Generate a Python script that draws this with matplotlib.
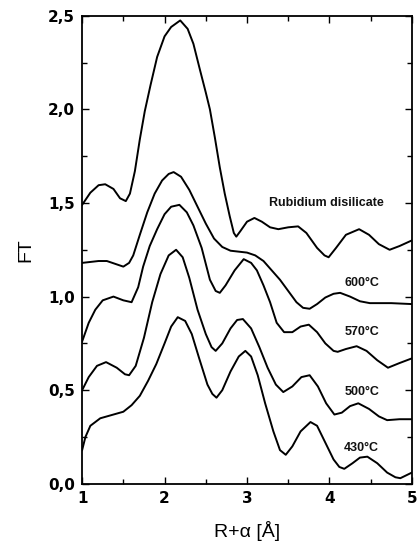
import matplotlib
matplotlib.use("Agg")
import matplotlib.pyplot as plt
from matplotlib.ticker import MultipleLocator, FuncFormatter

plt.rcParams['font.family'] = ['Liberation Sans', 'DejaVu Sans']

# curves (R+alpha in A, FT)
rb_x = [1.00, 1.10, 1.20, 1.28, 1.38, 1.46, 1.53, 1.58, 1.64, 1.70, 1.76, 1.83,
        1.91, 2.00, 2.08, 2.19, 2.28, 2.35, 2.43, 2.50, 2.55, 2.61, 2.67, 2.73,
        2.79, 2.84, 2.87, 2.92, 3.00, 3.09, 3.18, 3.28, 3.38, 3.50, 3.62, 3.72,
        3.85, 3.94, 3.99, 4.08, 4.20, 4.36, 4.48, 4.60, 4.73, 4.85, 5.00]
rb_y = [1.49, 1.555, 1.595, 1.60, 1.575, 1.525, 1.51, 1.55, 1.67, 1.84, 1.99, 2.13,
        2.28, 2.39, 2.44, 2.475, 2.43, 2.35, 2.21, 2.09, 2.00, 1.85, 1.69, 1.55,
        1.43, 1.34, 1.32, 1.35, 1.40, 1.42, 1.40, 1.37, 1.36, 1.37, 1.375, 1.34,
        1.26, 1.22, 1.21, 1.26, 1.33, 1.36, 1.33, 1.28, 1.25, 1.27, 1.30]

t600_x = [1.00, 1.10, 1.20, 1.30, 1.40, 1.50, 1.57, 1.62, 1.70, 1.79, 1.88, 1.97,
          2.05, 2.11, 2.20, 2.30, 2.40, 2.50, 2.60, 2.70, 2.80, 2.90, 3.00, 3.10,
          3.20, 3.30, 3.40, 3.50, 3.60, 3.68, 3.76, 3.85, 3.95, 4.05, 4.13, 4.25,
          4.37, 4.49, 4.60, 4.75, 5.00]
t600_y = [1.18, 1.185, 1.19, 1.19, 1.175, 1.16, 1.18, 1.22, 1.33, 1.45, 1.55, 1.62,
          1.655, 1.665, 1.64, 1.57, 1.48, 1.39, 1.31, 1.265, 1.245, 1.24, 1.235, 1.22,
          1.19, 1.14, 1.09, 1.03, 0.97, 0.94, 0.935, 0.96, 0.995, 1.015, 1.02, 1.00,
          0.975, 0.965, 0.965, 0.965, 0.96]

t570_x = [1.00, 1.08, 1.16, 1.25, 1.38, 1.50, 1.60, 1.68, 1.74, 1.82, 1.91, 2.00,
          2.08, 2.18, 2.27, 2.35, 2.45, 2.55, 2.62, 2.67, 2.74, 2.85, 2.96, 3.05,
          3.12, 3.20, 3.28, 3.36, 3.45, 3.55, 3.65, 3.75, 3.85, 3.95, 4.05, 4.10,
          4.20, 4.33, 4.45, 4.58, 4.71, 4.85, 5.00]
t570_y = [0.76, 0.86, 0.93, 0.98, 1.00, 0.98, 0.97, 1.05, 1.16, 1.27, 1.36, 1.44,
          1.48, 1.49, 1.45, 1.38, 1.26, 1.09, 1.03, 1.02, 1.06, 1.14, 1.20, 1.18,
          1.14, 1.06, 0.97, 0.86, 0.81, 0.81, 0.84, 0.85, 0.81, 0.75, 0.71, 0.705,
          0.72, 0.735, 0.71, 0.66, 0.62, 0.645, 0.67]

t500_x = [1.00, 1.08, 1.18, 1.29, 1.42, 1.52, 1.57, 1.65, 1.75, 1.85, 1.95, 2.05,
          2.14, 2.22, 2.30, 2.40, 2.50, 2.57, 2.62, 2.70, 2.80, 2.88, 2.95, 3.05,
          3.15, 3.25, 3.35, 3.44, 3.55, 3.66, 3.76, 3.86, 3.96, 4.06, 4.15, 4.25,
          4.35, 4.48, 4.60, 4.70, 4.85, 5.00]
t500_y = [0.50, 0.57, 0.63, 0.65, 0.62, 0.585, 0.58, 0.63, 0.78, 0.97, 1.12, 1.22,
          1.25, 1.21, 1.10, 0.93, 0.80, 0.73, 0.71, 0.75, 0.83, 0.875, 0.88, 0.83,
          0.73, 0.62, 0.53, 0.49, 0.52, 0.57, 0.58, 0.52, 0.43, 0.37, 0.38, 0.415,
          0.43, 0.40, 0.36, 0.34, 0.345, 0.345]

t430_x = [1.00, 1.04, 1.10, 1.22, 1.38, 1.50, 1.60, 1.70, 1.80, 1.90, 2.00, 2.08,
          2.16, 2.25, 2.33, 2.42, 2.52, 2.58, 2.63, 2.70, 2.80, 2.90, 2.98, 3.05,
          3.13, 3.22, 3.32, 3.40, 3.47, 3.55, 3.65, 3.77, 3.85, 3.95, 4.05, 4.12,
          4.18, 4.28, 4.37, 4.46, 4.58, 4.70, 4.80, 4.86, 4.93, 5.00]
t430_y = [0.18, 0.25, 0.31, 0.35, 0.37, 0.385, 0.42, 0.47, 0.55, 0.64, 0.75, 0.84,
          0.89, 0.87, 0.80, 0.67, 0.53, 0.48, 0.46, 0.50, 0.60, 0.68, 0.71, 0.68,
          0.58, 0.43, 0.28, 0.18, 0.155, 0.20, 0.28, 0.33, 0.31, 0.22, 0.13, 0.09,
          0.08, 0.11, 0.14, 0.145, 0.11, 0.06, 0.035, 0.03, 0.045, 0.06]

labels = ['Rubidium disilicate', '600°C', '570°C', '500°C', '430°C']
label_x = [3.96, 4.39, 4.39, 4.39, 4.38]
label_y = [1.50, 1.07, 0.81, 0.49, 0.19]

fig = plt.figure(figsize=(4.19, 5.43), dpi=100)
ax = fig.add_axes([0.196, 0.109, 0.787, 0.862])

for xs, ys in [(rb_x, rb_y), (t600_x, t600_y), (t570_x, t570_y),
               (t500_x, t500_y), (t430_x, t430_y)]:
    ax.plot(xs, ys, color='black', lw=1.4, solid_joinstyle='round')

for txt, lx, ly in zip(labels, label_x, label_y):
    ax.text(lx, ly, txt, ha='center', va='center', fontsize=9,
            fontweight='bold', color='#111111')

ax.set_xlim(1, 5)
ax.set_ylim(0, 2.5)
ax.xaxis.set_major_locator(MultipleLocator(1))
ax.xaxis.set_minor_locator(MultipleLocator(0.5))
ax.yaxis.set_major_locator(MultipleLocator(0.5))
ax.yaxis.set_minor_locator(MultipleLocator(0.25))
ax.yaxis.set_major_formatter(FuncFormatter(lambda v, p: f'{v:.1f}'.replace('.', ',')))
ax.tick_params(which='both', direction='in', top=True, right=True, width=1.0)
ax.tick_params(which='major', length=5, pad=5)
ax.tick_params(which='minor', length=3.5)
for lab in ax.get_xticklabels() + ax.get_yticklabels():
    lab.set_family('DejaVu Sans')
    lab.set_fontweight('bold')
    lab.set_fontsize(11)
for sp in ax.spines.values():
    sp.set_linewidth(1.3)

ax.set_xlabel('R+α [Å]', fontsize=14, labelpad=11)
ax.set_ylabel('FT', fontsize=14, labelpad=10)

fig.savefig('out.png', dpi=100)
